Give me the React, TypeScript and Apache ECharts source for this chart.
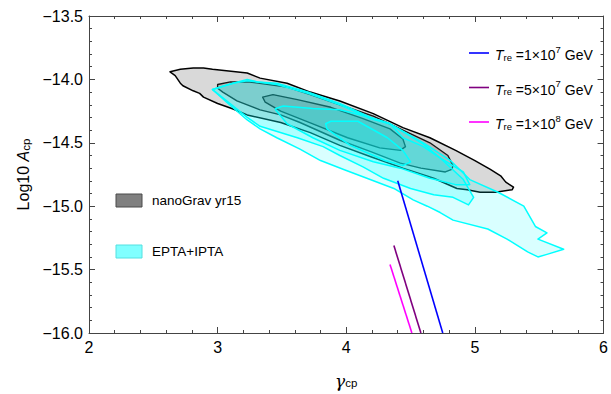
import React, { useEffect, useRef } from "react";
import * as echarts from "echarts";

// axis ranges / ticks
const xRange = [2, 6];
const yRange = [-16, -13.5];
const xStep = 1;
const yStep = 0.5;

// nanoGrav yr15 contours (gamma_cp, log10 A_cp)
const ngOuter = [
  [2.63, -13.94], [2.71, -13.92], [2.81, -13.91], [2.89, -13.91], [2.96, -13.92], [3.23, -13.95],
  [3.33, -13.99], [3.54, -14.03], [3.72, -14.10], [3.95, -14.17], [4.21, -14.27], [4.44, -14.38],
  [4.65, -14.46], [4.85, -14.56], [5.0, -14.64], [5.12, -14.71], [5.2, -14.76], [5.24, -14.81],
  [5.3, -14.85], [5.29, -14.87], [5.16, -14.89], [5.04, -14.89], [4.94, -14.87], [4.86, -14.86],
  [4.68, -14.78], [4.44, -14.7], [4.19, -14.61], [3.95, -14.52], [3.72, -14.42], [3.49, -14.34],
  [3.23, -14.28], [3.11, -14.23], [3.0, -14.19], [2.89, -14.14], [2.86, -14.11], [2.81, -14.09],
  [2.73, -14.05], [2.71, -14.03], [2.67, -13.97],
];
const ngMid = [
  [3.0, -14.04], [3.1, -14.02], [3.25, -14.02], [3.54, -14.06], [3.72, -14.12], [3.95, -14.2],
  [4.21, -14.29], [4.44, -14.4], [4.65, -14.5], [4.79, -14.6], [4.83, -14.68], [4.82, -14.71],
  [4.77, -14.73], [4.58, -14.7], [4.42, -14.66], [4.19, -14.57], [3.95, -14.48], [3.64, -14.34],
  [3.49, -14.28], [3.33, -14.24], [3.15, -14.17], [3.04, -14.1], [3.0, -14.07],
];
const ngInner = [
  [3.35, -14.14], [3.43, -14.12], [3.62, -14.16], [3.88, -14.22], [4.13, -14.31], [4.34, -14.39],
  [4.44, -14.47], [4.46, -14.53], [4.42, -14.56], [4.26, -14.54], [4.01, -14.46], [3.74, -14.35],
  [3.49, -14.25], [3.37, -14.18],
];

// EPTA+IPTA contours
const eptaOuter = [
  [2.96, -14.08], [3.02, -14.06], [3.12, -14.03], [3.23, -14.0], [3.31, -14.02], [3.46, -14.03],
  [3.7, -14.1], [3.95, -14.19], [4.19, -14.3], [4.34, -14.35], [4.6, -14.5], [4.81, -14.64],
  [4.96, -14.79], [5.18, -14.89], [5.38, -15.0], [5.47, -15.16], [5.56, -15.21], [5.49, -15.26],
  [5.69, -15.34], [5.56, -15.38], [5.49, -15.4], [5.41, -15.36], [5.25, -15.26], [5.1, -15.18],
  [4.83, -15.11], [4.73, -15.05], [4.63, -15.0], [4.52, -14.95], [4.37, -14.86], [4.16, -14.78],
  [3.98, -14.71], [3.8, -14.64], [3.64, -14.55], [3.46, -14.46], [3.33, -14.39], [3.23, -14.32],
  [3.07, -14.18],
];
const eptaMid = [
  [2.96, -14.08], [3.12, -14.03], [3.23, -14.01], [3.46, -14.04], [3.7, -14.11], [3.95, -14.2],
  [4.19, -14.31], [4.34, -14.35], [4.6, -14.51], [4.73, -14.62], [4.91, -14.79], [4.99, -14.93],
  [4.95, -14.99], [4.83, -14.93], [4.68, -14.91], [4.5, -14.86], [4.29, -14.78], [4.13, -14.69],
  [3.95, -14.6], [3.82, -14.53], [3.62, -14.46], [3.33, -14.37], [3.23, -14.3], [3.07, -14.17],
];
const eptaIn1 = [
  [3.45, -14.23], [3.51, -14.21], [3.74, -14.23], [3.95, -14.24], [4.19, -14.3], [4.34, -14.35],
  [4.44, -14.46], [4.6, -14.53], [4.73, -14.62], [4.91, -14.73], [4.96, -14.83], [4.85, -14.83],
  [4.65, -14.78], [4.42, -14.7], [4.21, -14.65], [3.95, -14.56], [3.74, -14.46], [3.54, -14.35],
  [3.45, -14.24],
];
const eptaIn2 = [
  [3.84, -14.35], [3.88, -14.33], [4.09, -14.33], [4.32, -14.46], [4.44, -14.56], [4.5, -14.65],
  [4.44, -14.68], [4.3, -14.64], [4.21, -14.6], [4.03, -14.52], [3.85, -14.39],
];

// reheating temperature curves
const tre1e7 = [[4.40, -14.80], [4.75, -16.0]];
const tre5e7 = [[4.37, -15.31], [4.58, -16.0]];
const tre1e8 = [[4.34, -15.46], [4.51, -16.0]];

const treLabels = [
  { mant: "1", exp: "7", color: "#0000ff", data: tre1e7 },
  { mant: "5", exp: "7", color: "#800080", data: tre5e7 },
  { mant: "1", exp: "8", color: "#ff00ff", data: tre1e8 },
];

const regionLabels = ["nanoGrav yr15", "EPTA+IPTA"];

const FONT = "'Liberation Sans', Arial, sans-serif";

function polygonSeries(name: string, pts: number[][], fill: string, stroke: string, lw: number) {
  return {
    type: "custom",
    name,
    data: pts,
    clip: true,
    silent: true,
    encode: { x: 0, y: 1 },
    renderItem: (params: any, api: any) => {
      if (params.dataIndex !== 0) return null;
      const points = pts.map((p) => api.coord(p));
      return {
        type: "polygon",
        shape: { points },
        style: { fill, stroke, lineWidth: lw, lineJoin: "round" },
      };
    },
  };
}

const fmtY = (v: number) => (v < 0 ? "\u2212" : "") + Math.abs(v).toFixed(1);

export default function App() {
  const ref = useRef<HTMLDivElement>(null);
  useEffect(() => {
    if (!ref.current) return;
    const chart = echarts.init(ref.current, null, { renderer: "svg" });
    const frame = "#444444";
    const baseX = {
      type: "value",
      min: xRange[0],
      max: xRange[1],
      interval: xStep,
      splitLine: { show: false },
      axisLine: { show: true, onZero: false, lineStyle: { color: frame, width: 1 } },
      axisTick: { show: true, inside: true, length: 6, lineStyle: { color: frame } },
      minorTick: { show: true, splitNumber: 5, length: 3, lineStyle: { color: frame } },
    };
    const baseY = {
      type: "value",
      min: yRange[0],
      max: yRange[1],
      interval: yStep,
      splitLine: { show: false },
      axisLine: { show: true, onZero: false, lineStyle: { color: frame, width: 1 } },
      axisTick: { show: true, inside: true, length: 6, lineStyle: { color: frame } },
      minorTick: { show: true, splitNumber: 5, length: 3, lineStyle: { color: frame } },
    };
    const treSeries = treLabels.map((t, i) => ({
      type: "line",
      name: "tre" + i,
      data: t.data,
      showSymbol: false,
      symbol: "none",
      lineStyle: { color: t.color, width: 1.6 },
      silent: true,
      clip: true,
    }));
    const graphics: any[] = [];
    const legX = 469;
    const legY0 = 53;
    const legDy = 34.5;
    treLabels.forEach((t, i) => {
      const y = legY0 + i * legDy;
      graphics.push({
        type: "line",
        shape: { x1: legX, y1: y, x2: legX + 20, y2: y },
        style: { stroke: t.color, lineWidth: 1.6 },
      });
      graphics.push({
        type: "text",
        x: legX + 26,
        y: y,
        style: {
          text: `{t|T}{s|re}{n| =${t.mant}×10}{p|${t.exp}}{n| GeV}`,
          verticalAlign: "middle",
          rich: {
            t: { fontFamily: FONT, fontSize: 14, fontStyle: "italic", fill: "#000", lineHeight: 18, verticalAlign: "bottom" },
            s: { fontFamily: FONT, fontSize: 9.5, fill: "#000", lineHeight: 12, verticalAlign: "bottom" },
            n: { fontFamily: FONT, fontSize: 14, fill: "#000", lineHeight: 18, verticalAlign: "bottom" },
            p: { fontFamily: FONT, fontSize: 9.5, fill: "#000", lineHeight: 10, verticalAlign: "top" },
          },
        },
      });
    });
    // region legend
    const regLeg = [
      { label: regionLabels[0], fill: "#808080", stroke: "#4a4a4a", y: 194 },
      { label: regionLabels[1], fill: "#80ffff", stroke: "#55e0e0", y: 245 },
    ];
    regLeg.forEach((r) => {
      graphics.push({
        type: "rect",
        shape: { x: 116, y: r.y, width: 26, height: 13 },
        style: { fill: r.fill, stroke: r.stroke, lineWidth: 1 },
      });
      graphics.push({
        type: "text",
        x: 152,
        y: r.y + 6.5,
        style: { text: r.label, fontFamily: FONT, fontSize: 13.5, fill: "#000", verticalAlign: "middle" },
      });
    });

    chart.setOption({
      animation: false,
      backgroundColor: "#ffffff",
      grid: { left: 89, right: 6, top: 16, bottom: 60, containLabel: false },
      xAxis: [
        {
          ...baseX,
          position: "bottom",
          axisLabel: { show: true, margin: 6, fontFamily: FONT, fontSize: 16, color: "#000" },
          name: "{g|γ}{s|cp}",
          nameLocation: "middle",
          nameGap: 36,
          nameTextStyle: {
            rich: {
              g: { fontFamily: "'DejaVu Serif', serif", fontSize: 17, fontStyle: "italic", color: "#000", lineHeight: 20, verticalAlign: "bottom" },
              s: { fontFamily: FONT, fontSize: 11.5, color: "#000", lineHeight: 15, verticalAlign: "bottom" },
            },
          },
        },
        { ...baseX, position: "top", axisLabel: { show: false } },
      ],
      yAxis: [
        {
          ...baseY,
          position: "left",
          axisLabel: { show: true, margin: 6, fontFamily: FONT, fontSize: 16, color: "#000", formatter: fmtY },
          name: "{n|Log10 }{a|A}{s|cp}",
          nameLocation: "middle",
          nameGap: 50,
          nameRotate: 90,
          nameTextStyle: {
            rich: {
              n: { fontFamily: FONT, fontSize: 16, color: "#000", lineHeight: 20, verticalAlign: "bottom" },
              a: { fontFamily: FONT, fontSize: 16, fontStyle: "italic", color: "#000", lineHeight: 20, verticalAlign: "bottom" },
              s: { fontFamily: FONT, fontSize: 11.5, color: "#000", lineHeight: 15, verticalAlign: "bottom" },
            },
          },
        },
        { ...baseY, position: "right", axisLabel: { show: false } },
      ],
      series: [
        polygonSeries("ngOuter", ngOuter, "rgba(0,0,0,0.15)", "#000000", 1.5),
        polygonSeries("ngMid", ngMid, "rgba(0,0,0,0.15)", "#1a1a1a", 1.4),
        polygonSeries("ngInner", ngInner, "rgba(0,0,0,0.15)", "#1a1a1a", 1.4),
        polygonSeries("eptaOuter", eptaOuter, "rgba(0,255,255,0.15)", "#00ffff", 1.5),
        polygonSeries("eptaMid", eptaMid, "rgba(0,255,255,0.2)", "#00ffff", 1.5),
        polygonSeries("eptaIn1", eptaIn1, "rgba(0,255,255,0.2)", "#00ffff", 1.5),
        polygonSeries("eptaIn2", eptaIn2, "rgba(0,255,255,0.2)", "#00ffff", 1.5),
        ...treSeries,
      ],
      graphic: graphics,
    });
    return () => chart.dispose();
  }, []);
  return <div ref={ref} style={{ position: "absolute", left: 0, top: 0, width: 611, height: 394 }} />;
}
